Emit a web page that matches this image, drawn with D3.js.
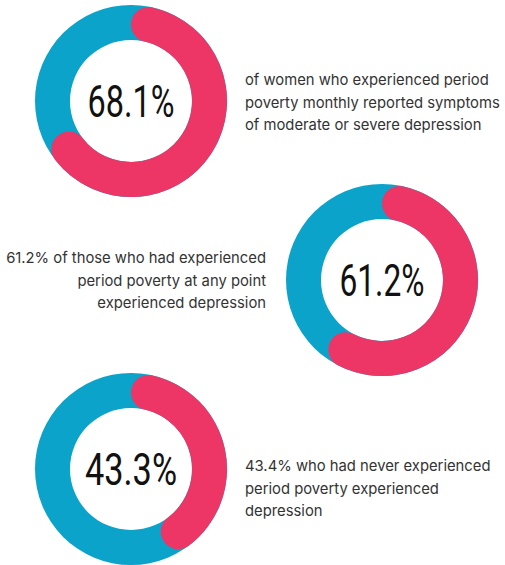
<!DOCTYPE html>
<html>
<head>
<meta charset="utf-8">
<script src="https://cdn.jsdelivr.net/npm/d3@7"></script>
<style>
  html, body { margin: 0; padding: 0; background: #ffffff; }
  svg { display: block; }
</style>
</head>
<body>
<svg id="chart" width="505" height="565"></svg>
<script>
// ---- data ----
const values = [68.1, 61.2, 43.3];
const valueLabels = ["68.1%", "61.2%", "43.3%"];
const captions = [
  ["of women who experienced period", "poverty monthly reported symptoms", "of moderate or severe depression"],
  ["61.2% of those who had experienced", "period poverty at any point", "experienced depression"],
  ["43.4% who had never experienced", "period poverty experienced", "depression"]
];

// ---- layout ----
const layout = [
  { cx: 131, cy: 101, tx: 245, ty: 85, anchor: "start", lw: 87 },
  { cx: 382, cy: 280, tx: 266, ty: 263, anchor: "end", lw: 85 },
  { cx: 131, cy: 469, tx: 245, ty: 471, anchor: "start", lw: 92 }
];
const R = 96, r = 61;
const blue = "#0ba3c9", pink = "#ed3566";

const svg = d3.select("#chart");
const angle = d3.scaleLinear().domain([0, 100]).range([0, 2 * Math.PI]);

const ring = d3.arc().innerRadius(r).outerRadius(R).startAngle(0).endAngle(2 * Math.PI);
const part = d3.arc().innerRadius(r).outerRadius(R).cornerRadius((R - r) / 2);

values.forEach((v, i) => {
  const L = layout[i];
  const g = svg.append("g").attr("transform", `translate(${L.cx},${L.cy})`);
  g.append("path").attr("d", ring()).attr("fill", blue);
  g.append("path")
    .attr("d", part({ startAngle: angle(0), endAngle: angle(v) }))
    .attr("fill", pink);
  g.append("text")
    .attr("x", 0).attr("y", 16)
    .attr("text-anchor", "middle")
    .attr("font-family", "Roboto, sans-serif")
    .attr("font-size", 44)
    .attr("font-weight", 400)
    .attr("fill", "#111")
    .attr("textLength", L.lw)
    .attr("lengthAdjust", "spacingAndGlyphs")
    .text(valueLabels[i]);

  const t = svg.append("text")
    .attr("text-anchor", L.anchor)
    .attr("font-family", "Inter, 'Noto Sans', sans-serif")
    .attr("font-size", 14.8)
    .attr("fill", "#333");
  captions[i].forEach((line, j) => {
    t.append("tspan").attr("x", L.tx).attr("y", L.ty + j * 22.5).text(line);
  });
});
</script>
</body>
</html>
